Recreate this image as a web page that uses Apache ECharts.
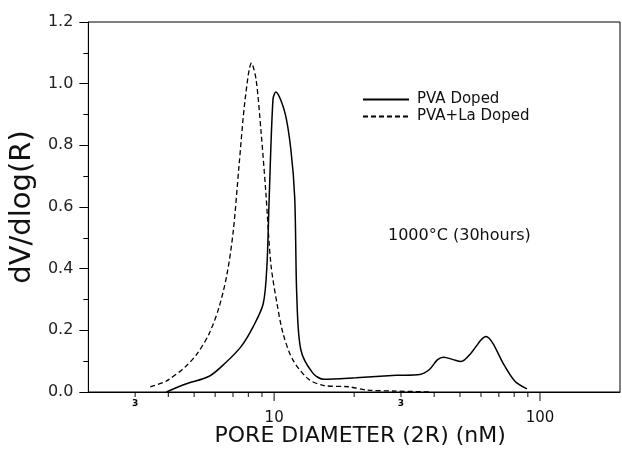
<!DOCTYPE html>
<html>
<head>
<meta charset="utf-8">
<script src="https://cdn.jsdelivr.net/npm/echarts@6/dist/echarts.min.js"></script>
<style>
  html, body { margin: 0; background: #fff; }
  #main { width: 622px; height: 452px; }
</style>
</head>
<body>
<div id="main"></div>
<script>
// PVA doped (solid), pore diameter in nM
var pvaX = [3.93, 4.65, 5.7, 6.55, 7.52, 8.34, 9.1, 9.4, 9.58, 9.9, 10.14, 10.97, 11.55, 11.95, 12.17, 12.6, 13.96, 15.4, 20.3, 28.8, 35.3, 38.4, 41.2, 43.4, 47.1, 50.5, 55, 60, 62.7, 66.5, 72.6, 80.5, 89.3];
var pvaY = [0.0, 0.026, 0.051, 0.094, 0.148, 0.212, 0.287, 0.415, 0.63, 0.95, 0.973, 0.907, 0.789, 0.63, 0.308, 0.137, 0.062, 0.041, 0.046, 0.054, 0.057, 0.073, 0.105, 0.113, 0.105, 0.099, 0.126, 0.169, 0.180, 0.158, 0.094, 0.035, 0.01];

// PVA+La doped (dashed)
var laX = [3.42, 3.92, 4.65, 5.15, 5.7, 6.21, 6.65, 7.02, 7.38, 7.78, 8.22, 8.55, 8.93, 9.3, 9.72, 10.25, 10.8, 11.76, 13.5, 15.4, 19, 22.5, 28.8, 39];
var laY = [0.017, 0.035, 0.083, 0.126, 0.19, 0.276, 0.383, 0.523, 0.736, 0.95, 1.067, 1.014, 0.843, 0.65, 0.415, 0.287, 0.19, 0.104, 0.041, 0.021, 0.017, 0.006, 0.003, 0.0];

var xMin = 2, xMax = 200;
var minorTicks = [3, 4, 5, 6, 7, 8, 9, 20, 30, 40, 50, 60, 70, 80, 90];
var majorTicks = [10, 100];
var smallLabels = [3, 30];

function pairs(xs, ys) {
  return xs.map(function (x, i) { return [x, ys[i]]; });
}
function logs(vals) {
  return vals.map(function (v) { return Math.log10(v); });
}
// tick marks on the log axis, drawn as thin rects hanging below y = 0
function tickSeries(vals, len) {
  return {
    type: 'scatter',
    xAxisIndex: 0,
    silent: true,
    clip: false,
    z: 5,
    symbol: 'rect',
    symbolSize: [1.2, len],
    symbolOffset: [0, len / 2],
    itemStyle: { color: '#000' },
    data: vals.map(function (v) { return [v, 0]; })
  };
}

var chart = echarts.init(document.getElementById('main'));
chart.setOption({
  animation: false,
  textStyle: { fontFamily: 'DejaVu Sans' },
  grid: { left: 88, right: 2, top: 22, bottom: 56, show: true, borderColor: '#000', borderWidth: 1 },
  legend: {
    data: ['PVA Doped', 'PVA+La Doped'],
    orient: 'vertical',
    left: 357,
    top: 87,
    itemWidth: 46,
    itemHeight: 12,
    itemGap: 2,
    itemStyle: { opacity: 0 },
    textStyle: { fontSize: 15, color: '#111', padding: [0, 0, 0, 3] }
  },
  graphic: [{
    type: 'text',
    left: 388,
    top: 228,
    style: { text: '1000°C (30hours)', fontSize: 16, fill: '#111', fontFamily: 'DejaVu Sans' }
  }],
  xAxis: [{
    type: 'log',
    min: xMin,
    max: xMax,
    name: 'PORE DIAMETER (2R) (nM)',
    nameLocation: 'middle',
    nameGap: 33,
    nameTextStyle: { fontSize: 22, color: '#111', padding: [0, 0, 0, 12] },
    axisLine: { show: true, lineStyle: { color: '#000', width: 1 } },
    axisTick: { show: false },
    axisLabel: { show: false },
    splitLine: { show: false }
  }, {
    // small "3" labels (at 3 and 30), in log10 space
    type: 'value',
    min: Math.log10(xMin),
    max: Math.log10(xMax),
    position: 'bottom',
    axisLine: { show: false },
    splitLine: { show: false },
    axisTick: { show: false },
    axisLabel: {
      show: true,
      customValues: logs(smallLabels),
      formatter: function () { return '3'; },
      fontSize: 9,
      fontWeight: 'bold',
      color: '#000',
      margin: 7
    }
  }, {
    // decade labels
    type: 'value',
    min: Math.log10(xMin),
    max: Math.log10(xMax),
    position: 'bottom',
    axisLine: { show: false },
    splitLine: { show: false },
    axisTick: { show: false },
    axisLabel: {
      show: true,
      customValues: logs(majorTicks),
      formatter: function (v) { return String(Math.round(Math.pow(10, v))); },
      fontSize: 15,
      color: '#111',
      margin: 19
    }
  }],
  yAxis: {
    type: 'value',
    min: 0,
    max: 1.2,
    interval: 0.2,
    name: 'dV/dlog(R)',
    nameLocation: 'middle',
    nameGap: 46,
    nameTextStyle: { fontSize: 29, color: '#111' },
    axisLine: { show: true, lineStyle: { color: '#000' } },
    axisTick: { show: true, length: 9, lineStyle: { color: '#000' } },
    minorTick: { show: true, splitNumber: 2, length: 5, lineStyle: { color: '#000' } },
    axisLabel: {
      fontSize: 16,
      color: '#222',
      margin: 15,
      formatter: function (v) { return v.toFixed(1); }
    },
    splitLine: { show: false }
  },
  series: [{
    name: 'PVA Doped',
    type: 'line',
    xAxisIndex: 0,
    symbol: 'none',
    smooth: 0.3,
    data: pairs(pvaX, pvaY),
    lineStyle: { color: '#000', width: 1.5 },
    itemStyle: { color: '#000' }
  }, {
    name: 'PVA+La Doped',
    type: 'line',
    xAxisIndex: 0,
    symbol: 'none',
    smooth: 0.3,
    data: pairs(laX, laY),
    lineStyle: { color: '#000', width: 1.3, type: [5, 3] },
    itemStyle: { color: '#000' }
  }, tickSeries(minorTicks, 5), tickSeries(majorTicks, 9)]
});
</script>
</body>
</html>
